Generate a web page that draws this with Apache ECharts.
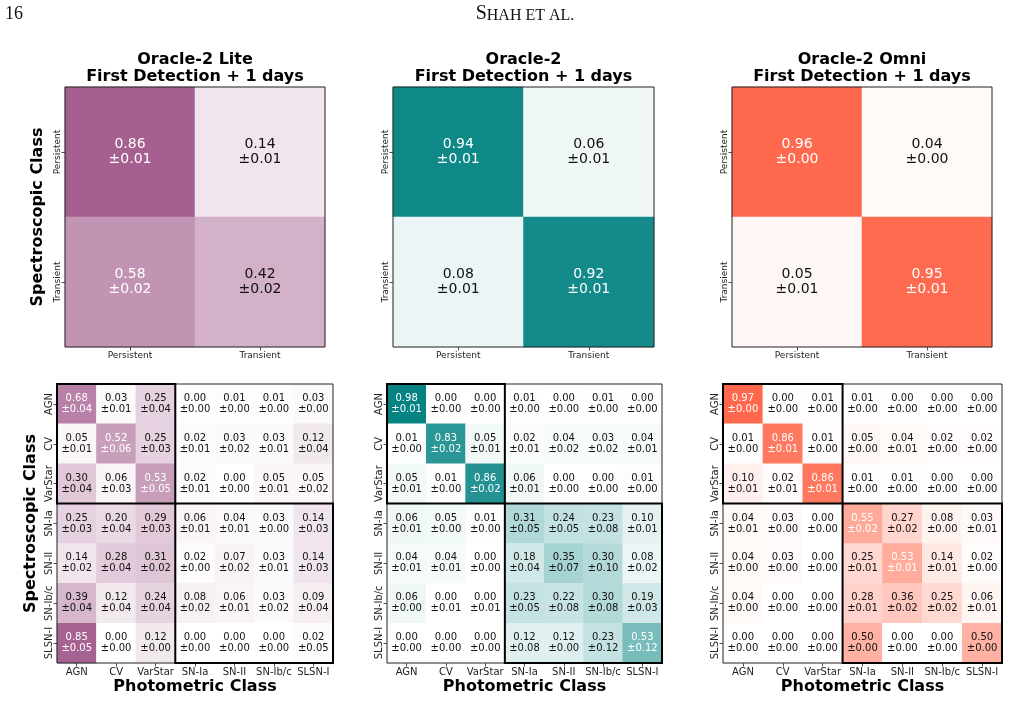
<!DOCTYPE html>
<html>
<head>
<meta charset="utf-8">
<script src="https://cdn.jsdelivr.net/npm/echarts@6/dist/echarts.min.js"></script>
<style>
html,body{margin:0;padding:0;background:#fff;}
#chart{width:1023px;height:727px;}
</style>
</head>
<body>
<div id="chart"></div>
<script>
// ---------- data ----------
const binaryClasses = ['Persistent', 'Transient'];
const classes = ['AGN', 'CV', 'VarStar', 'SN-Ia', 'SN-II', 'SN-Ib/c', 'SLSN-I'];
const modelNames = ['Oracle-2 Lite', 'Oracle-2', 'Oracle-2 Omni'];
const subtitle = 'First Detection + 1 days';

// rows = spectroscopic (true) class, columns = photometric (predicted) class
const liteBinMean = [[0.86, 0.14], [0.58, 0.42]];
const liteBinErr  = [[0.01, 0.01], [0.02, 0.02]];
const oracleBinMean = [[0.94, 0.06], [0.08, 0.92]];
const oracleBinErr  = [[0.01, 0.01], [0.01, 0.01]];
const omniBinMean = [[0.96, 0.04], [0.05, 0.95]];
const omniBinErr  = [[0.00, 0.00], [0.01, 0.01]];

const liteMean = [
  [0.68, 0.03, 0.25, 0.00, 0.01, 0.01, 0.03],
  [0.05, 0.52, 0.25, 0.02, 0.03, 0.03, 0.12],
  [0.30, 0.06, 0.53, 0.02, 0.00, 0.05, 0.05],
  [0.25, 0.20, 0.29, 0.06, 0.04, 0.03, 0.14],
  [0.14, 0.28, 0.31, 0.02, 0.07, 0.03, 0.14],
  [0.39, 0.12, 0.24, 0.08, 0.06, 0.03, 0.09],
  [0.85, 0.00, 0.12, 0.00, 0.00, 0.00, 0.02]
];
const liteErr = [
  [0.04, 0.01, 0.04, 0.00, 0.00, 0.00, 0.00],
  [0.01, 0.06, 0.03, 0.01, 0.02, 0.01, 0.04],
  [0.04, 0.03, 0.05, 0.01, 0.00, 0.01, 0.02],
  [0.03, 0.04, 0.03, 0.01, 0.01, 0.00, 0.03],
  [0.02, 0.04, 0.02, 0.00, 0.02, 0.01, 0.03],
  [0.04, 0.04, 0.04, 0.02, 0.01, 0.02, 0.04],
  [0.05, 0.00, 0.00, 0.00, 0.00, 0.00, 0.05]
];
const oracleMean = [
  [0.98, 0.00, 0.00, 0.01, 0.00, 0.01, 0.00],
  [0.01, 0.83, 0.05, 0.02, 0.04, 0.03, 0.04],
  [0.05, 0.01, 0.86, 0.06, 0.00, 0.00, 0.01],
  [0.06, 0.05, 0.01, 0.31, 0.24, 0.23, 0.10],
  [0.04, 0.04, 0.00, 0.18, 0.35, 0.30, 0.08],
  [0.06, 0.00, 0.00, 0.23, 0.22, 0.30, 0.19],
  [0.00, 0.00, 0.00, 0.12, 0.12, 0.23, 0.53]
];
const oracleErr = [
  [0.01, 0.00, 0.00, 0.00, 0.00, 0.00, 0.00],
  [0.00, 0.02, 0.01, 0.01, 0.02, 0.02, 0.01],
  [0.01, 0.00, 0.02, 0.01, 0.00, 0.00, 0.00],
  [0.01, 0.00, 0.00, 0.05, 0.05, 0.08, 0.01],
  [0.01, 0.01, 0.00, 0.04, 0.07, 0.10, 0.02],
  [0.00, 0.01, 0.01, 0.05, 0.08, 0.08, 0.03],
  [0.00, 0.00, 0.00, 0.08, 0.00, 0.12, 0.12]
];
const omniMean = [
  [0.97, 0.00, 0.01, 0.01, 0.00, 0.00, 0.00],
  [0.01, 0.86, 0.01, 0.05, 0.04, 0.02, 0.02],
  [0.10, 0.02, 0.86, 0.01, 0.01, 0.00, 0.00],
  [0.04, 0.03, 0.00, 0.55, 0.27, 0.08, 0.03],
  [0.04, 0.03, 0.00, 0.25, 0.53, 0.14, 0.02],
  [0.04, 0.00, 0.00, 0.28, 0.36, 0.25, 0.06],
  [0.00, 0.00, 0.00, 0.50, 0.00, 0.00, 0.50]
];
const omniErr = [
  [0.00, 0.00, 0.00, 0.00, 0.00, 0.00, 0.00],
  [0.00, 0.01, 0.00, 0.00, 0.01, 0.00, 0.00],
  [0.01, 0.01, 0.01, 0.00, 0.00, 0.00, 0.00],
  [0.01, 0.00, 0.00, 0.02, 0.02, 0.00, 0.01],
  [0.00, 0.00, 0.00, 0.01, 0.01, 0.01, 0.00],
  [0.00, 0.00, 0.00, 0.01, 0.02, 0.02, 0.01],
  [0.00, 0.00, 0.00, 0.00, 0.00, 0.00, 0.00]
];
// groups (persistent block, transient block) as category index ranges
const groupBoxes = [[0, 0, 2, 2], [3, 3, 6, 6]];

// ---------- styling ----------
const FONT = 'DejaVu Sans';
const cmapEnd = ['#96467d', '#008080', '#ff6347'];
const topGrids = [
  {left: 65, top: 87, width: 260, height: 260},
  {left: 393, top: 87, width: 261, height: 260},
  {left: 732, top: 87, width: 260, height: 260}
];
const botGrids = [
  {left: 57, top: 384, width: 276, height: 279},
  {left: 387, top: 384, width: 275, height: 279},
  {left: 723, top: 384, width: 279, height: 279}
];

function toCells(mean, err) {
  const out = [];
  mean.forEach((row, r) => row.forEach((v, c) => out.push([c, r, v, err[r][c]])));
  return out;
}

const binSets = [[liteBinMean, liteBinErr], [oracleBinMean, oracleBinErr], [omniBinMean, omniBinErr]];
const fullSets = [[liteMean, liteErr], [oracleMean, oracleErr], [omniMean, omniErr]];

const grids = [], xAxes = [], yAxes = [], series = [], titles = [], visualMaps = [];

function labelFmt(p) {
  const v = p.value[2], e = p.value[3];
  const k = v > 0.5 ? 'w' : 'k';
  return '{' + k + '|' + v.toFixed(2) + '}\n{' + k + '|\u00b1' + e.toFixed(2) + '}';
}

function addPanel(idx, g, cats, mean, err, isTop, showYName, showXName) {
  grids.push(Object.assign({show: false, containLabel: false}, g));
  const tickFs = isTop ? 9 : 10;
  xAxes.push({
    type: 'category', gridIndex: idx, data: cats,
    axisLine: {show: false},
    axisTick: {show: true, interval: 0, alignWithLabel: true, length: 3.5, lineStyle: {color: '#222', width: 0.8}},
    axisLabel: {interval: 0, color: '#222', fontFamily: FONT, fontSize: tickFs, margin: 4},
    splitLine: {show: false},
    name: showXName ? 'Photometric Class' : '', nameLocation: 'middle', nameGap: 16,
    nameTextStyle: {fontFamily: FONT, fontSize: 16, fontWeight: 'bold', color: '#000'}
  });
  yAxes.push({
    type: 'category', gridIndex: idx, data: cats, inverse: true,
    axisLine: {show: false},
    axisTick: {show: true, interval: 0, alignWithLabel: true, length: 3.5, lineStyle: {color: '#222', width: 0.8}},
    axisLabel: {interval: 0, color: '#222', fontFamily: FONT, fontSize: tickFs, rotate: 90, margin: 3},
    splitLine: {show: false},
    name: showYName ? 'Spectroscopic Class' : '', nameLocation: 'middle', nameRotate: 90,
    nameGap: isTop ? 19 : 18,
    nameTextStyle: {fontFamily: FONT, fontSize: 16, fontWeight: 'bold', color: '#000'}
  });
  const fs = isTop ? 14 : 10;
  const lh = isTop ? 15 : 11;
  series.push({
    type: 'heatmap', xAxisIndex: idx, yAxisIndex: idx,
    data: toCells(mean, err),
    label: {
      show: true, formatter: labelFmt,
      rich: {
        w: {color: '#ffffff', fontFamily: FONT, fontSize: fs, lineHeight: lh, align: 'center'},
        k: {color: '#111111', fontFamily: FONT, fontSize: fs, lineHeight: lh, align: 'center'}
      }
    },
    itemStyle: {borderWidth: 0},
    emphasis: {disabled: true}
  });
}

for (let m = 0; m < 3; m++) {
  addPanel(m, topGrids[m], binaryClasses, binSets[m][0], binSets[m][1], true, m === 0, false);
}
for (let m = 0; m < 3; m++) {
  addPanel(m + 3, botGrids[m], classes, fullSets[m][0], fullSets[m][1], false, m === 0, true);
}

// frames and group boxes drawn through the axes' scales
function boxRender(params, api) {
  const x0 = api.value(0), y0 = api.value(1), x1 = api.value(2), y1 = api.value(3);
  const lw = api.value(4);
  const p0 = api.coord([x0, y0]);
  const p1 = api.coord([x1, y1]);
  const s = api.size([1, 1]);
  const x = Math.min(p0[0], p1[0]) - s[0] / 2;
  const y = Math.min(p0[1], p1[1]) - s[1] / 2;
  return {
    type: 'rect',
    shape: {x: x, y: y, width: Math.abs(p1[0] - p0[0]) + s[0], height: Math.abs(p1[1] - p0[1]) + s[1]},
    style: {fill: null, stroke: lw > 1 ? '#000' : '#222', lineWidth: lw},
    silent: true
  };
}
for (let i = 0; i < 6; i++) {
  const n = i < 3 ? binaryClasses.length : classes.length;
  const data = [[0, 0, n - 1, n - 1, 1]];
  if (i >= 3) groupBoxes.forEach(b => data.push([b[0], b[1], b[2], b[3], 2]));
  series.push({
    type: 'custom', xAxisIndex: i, yAxisIndex: i, z: 10,
    renderItem: boxRender, data: data,
    encode: {x: [0, 2], y: [1, 3]},
    silent: true, clip: false
  });
}

for (let m = 0; m < 3; m++) {
  visualMaps.push({
    type: 'continuous', show: false, min: 0, max: 1, dimension: 2,
    seriesIndex: [m, m + 3],
    inRange: {color: ['#ffffff', cmapEnd[m]]}
  });
  const g = topGrids[m];
  titles.push({
    text: modelNames[m] + '\n' + subtitle,
    left: g.left + g.width / 2, top: 51, textAlign: 'center', padding: 0,
    textStyle: {fontFamily: FONT, fontSize: 16, fontWeight: 'bold', color: '#000', lineHeight: 17}
  });
}

const chart = echarts.init(document.getElementById('chart'), null, {renderer: 'canvas'});
chart.setOption({
  animation: false,
  backgroundColor: '#fff',
  title: titles,
  grid: grids,
  xAxis: xAxes,
  yAxis: yAxes,
  visualMap: visualMaps,
  series: series,
  graphic: [
    {type: 'text', left: 5, top: 5, style: {text: '16', font: '18px "Liberation Serif", serif', fill: '#111'}},
    {type: 'text', x: 525, y: 4, style: {
      text: '{a|S}{b|HAH ET AL.}', align: 'center',
      rich: {
        a: {fontFamily: 'Liberation Serif', fontSize: 20, fill: '#111', verticalAlign: 'bottom', lineHeight: 20},
        b: {fontFamily: 'Liberation Serif', fontSize: 16, fill: '#111', verticalAlign: 'bottom', lineHeight: 20}
      }
    }}
  ]
});
</script>
</body>
</html>
